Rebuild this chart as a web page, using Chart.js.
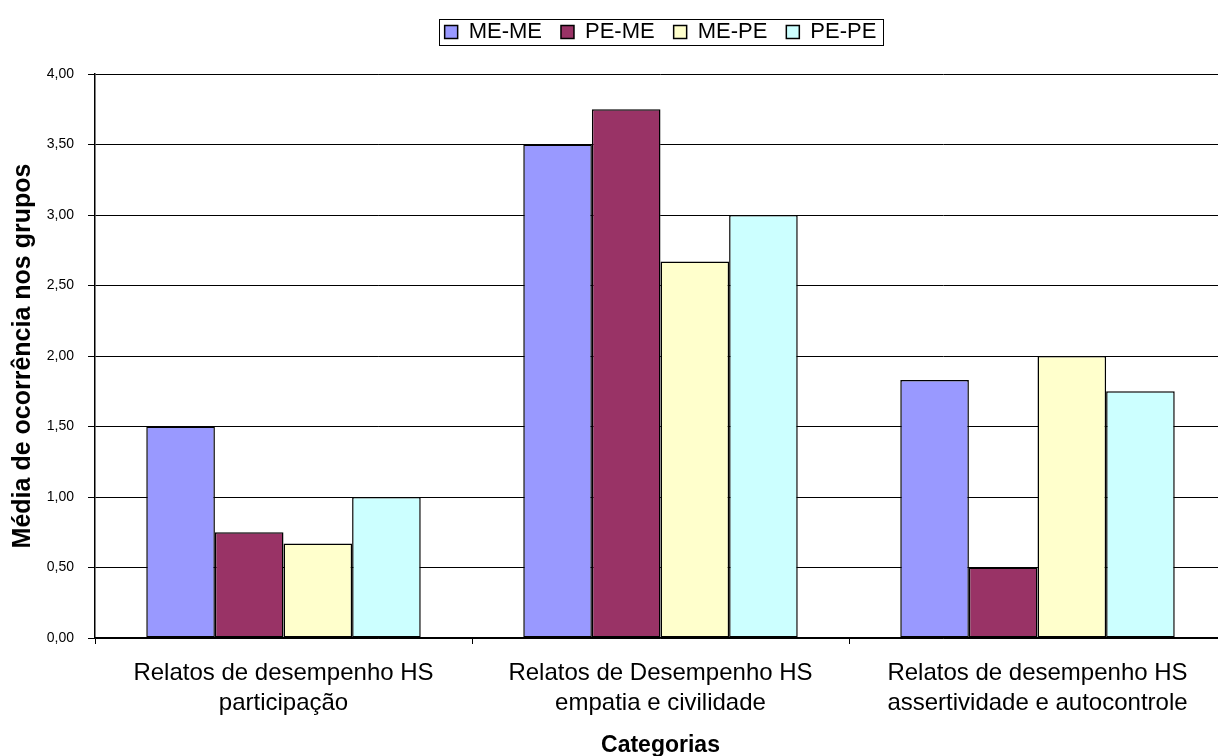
<!DOCTYPE html>
<html>
<head>
<meta charset="utf-8">
<script src="https://cdn.jsdelivr.net/npm/chart.js@4/dist/chart.umd.min.js"></script>
<style>
  html, body { margin: 0; padding: 0; background: #fff; overflow: hidden; }
  #wrap { width: 1230px; height: 759px; }
</style>
</head>
<body>
<div id="wrap"><canvas id="myChart" width="1230" height="759"></canvas></div>
<script>
var categorias = [
    ["Relatos de desempenho HS", "participação"],
    ["Relatos de Desempenho HS", "empatia e civilidade"],
    ["Relatos de desempenho HS", "assertividade e autocontrole"]
];
var meMe = [1.50, 3.50, 1.83];
var peMe = [0.75, 3.75, 0.50];
var mePe = [0.67, 2.67, 2.00];
var pePe = [1.00, 3.00, 1.75];

var fam = 'Liberation Sans, Arial, sans-serif';

// borda em volta da legenda
var legendBox = {
    id: 'legendBox',
    afterDraw: function (chart) {
        var lg = chart.legend;
        if (!lg || !lg.legendHitBoxes.length) return;
        var hb = lg.legendHitBoxes;
        var x0 = hb[0].left - 6;
        var last = hb[hb.length - 1];
        var x1 = last.left + last.width + 6;
        var y0 = hb[0].top - 2;
        var y1 = hb[0].top + hb[0].height + 2;
        var ctx = chart.ctx;
        ctx.save();
        ctx.strokeStyle = '#000';
        ctx.lineWidth = 1;
        ctx.strokeRect(Math.round(x0) + 0.5, Math.round(y0) + 0.5, Math.round(x1 - x0), Math.round(y1 - y0));
        ctx.restore();
    }
};

function ds(label, data, color) {
    return {
        label: label,
        data: data,
        backgroundColor: color,
        borderColor: '#000',
        borderWidth: 1.5,
        borderSkipped: false,
        barPercentage: 1.0,
        categoryPercentage: 0.728
    };
}

var ctx = document.getElementById('myChart').getContext('2d');
var chart = new Chart(ctx, {
    type: 'bar',
    data: {
        labels: categorias,
        datasets: [
            ds('ME-ME', meMe, '#9999FF'),
            ds('PE-ME', peMe, '#993366'),
            ds('ME-PE', mePe, '#FFFFCC'),
            ds('PE-PE', pePe, '#CCFFFF')
        ]
    },
    options: {
        responsive: false,
        animation: false,
        layout: { padding: { top: 2, right: 4, left: 0, bottom: 0 } },
        plugins: {
            tooltip: { enabled: false },
            legend: {
                position: 'top',
                fullSize: false,
                weight: 3000,
                labels: {
                    color: '#000',
                    font: { family: fam, size: 22 },
                    boxWidth: 13,
                    boxHeight: 13,
                    padding: 19
                },
                onClick: null
            },
            // espaço entre legenda e gráfico
            title: {
                display: true,
                text: ' ',
                fullSize: false,
                weight: 2000,
                font: { size: 1, lineHeight: 1 },
                padding: { top: 0, bottom: 20 }
            }
        },
        scales: {
            x: {
                offset: true,
                grid: {
                    offset: true,
                    drawOnChartArea: false,
                    drawTicks: true,
                    tickLength: 6,
                    color: '#000'
                },
                border: { color: '#000', width: 1.5 },
                ticks: {
                    color: '#000',
                    padding: 14,
                    maxRotation: 0,
                    autoSkip: false,
                    font: { family: fam, size: 24, lineHeight: 1.25 }
                },
                title: {
                    display: true,
                    text: 'Categorias',
                    color: '#000',
                    font: { family: fam, size: 23, weight: 'bold' },
                    padding: { top: 10, bottom: 0 }
                },
                afterFit: function (s) { s.height = 121; }
            },
            y: {
                min: 0,
                max: 4,
                ticks: {
                    stepSize: 0.5,
                    color: '#000',
                    padding: 14,
                    font: { family: fam, size: 14 },
                    callback: function (v) { return v.toFixed(2).replace('.', ','); }
                },
                grid: {
                    color: '#000',
                    lineWidth: 1,
                    tickLength: 7
                },
                border: { color: '#000', width: 1.5 },
                title: {
                    display: true,
                    text: 'Média de ocorrência nos grupos',
                    color: '#000',
                    font: { family: fam, size: 25, weight: 'bold' },
                    padding: { top: 8, bottom: 0 }
                },
                afterFit: function (s) { s.width = 95; }
            }
        }
    },
    plugins: [legendBox]
});
</script>
</body>
</html>
